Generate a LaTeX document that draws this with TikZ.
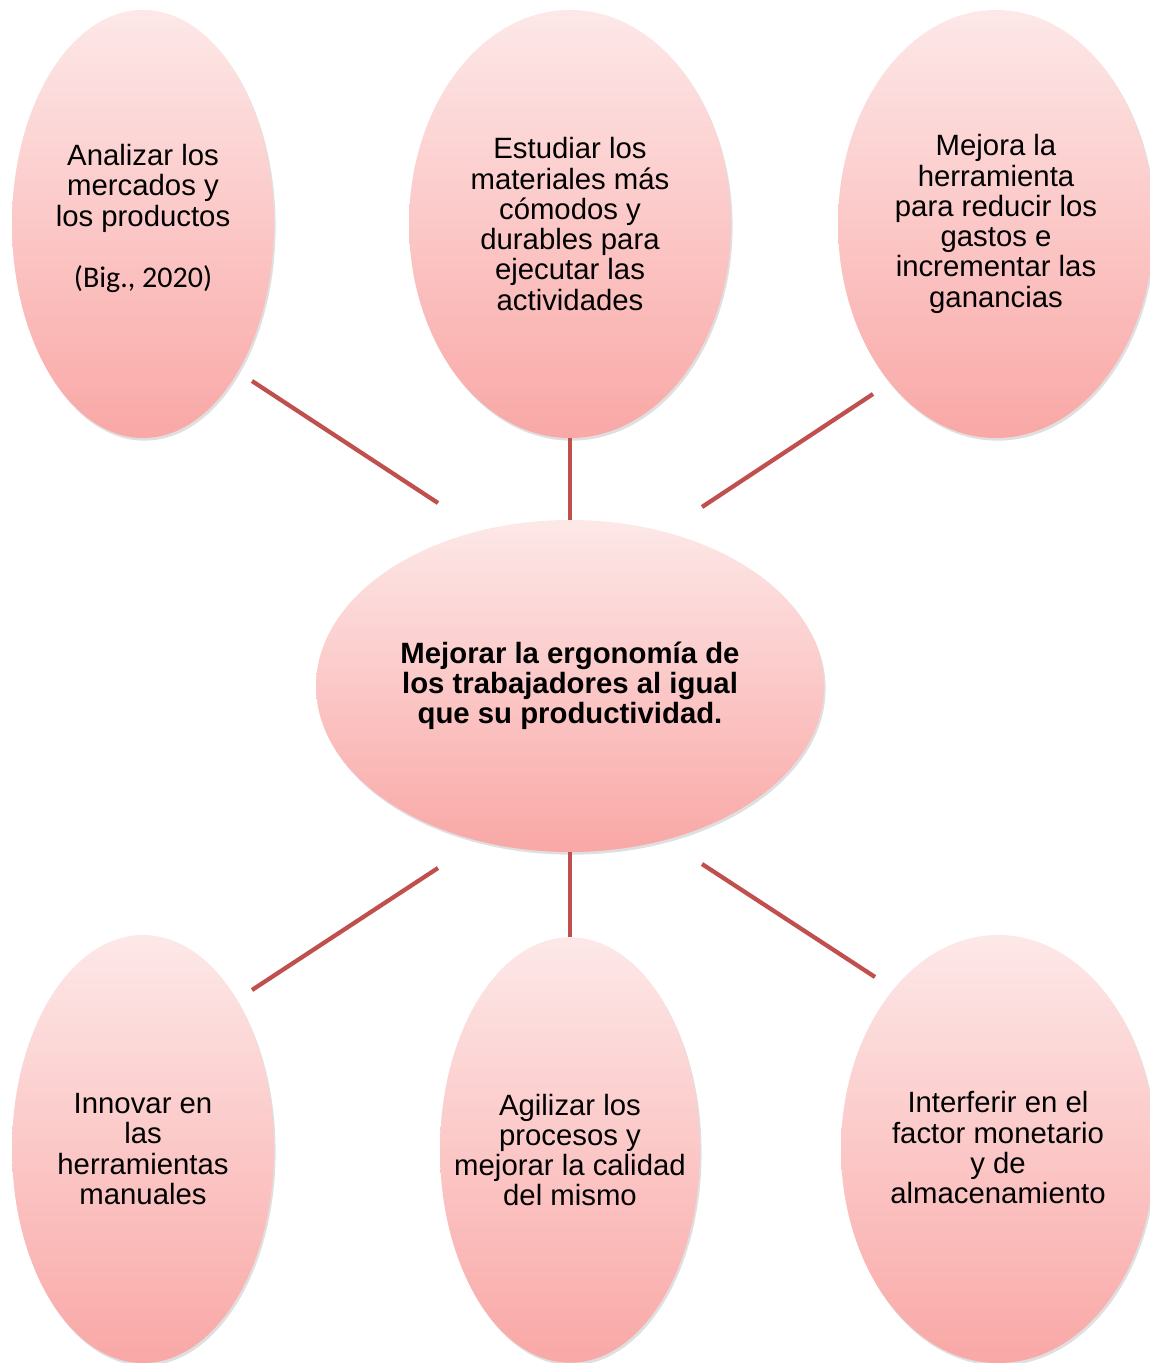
\documentclass[tikz,border=0pt]{standalone}
\usepackage{fontspec}
\setmainfont{Liberation Sans}
\newfontfamily\citefont{Carlito}
\usetikzlibrary{shapes.geometric, shadows, positioning}

\definecolor{pinktop}{RGB}{253,232,232}
\definecolor{pinkbot}{RGB}{249,168,166}
\definecolor{linkred}{RGB}{192,80,77}

\begin{document}
\begin{tikzpicture}[
  x=0.75pt, y=-0.75pt,
  bubble/.style={ellipse,inner sep=0pt,draw=none,top color=pinktop,bottom color=pinkbot,
    drop shadow={opacity=0.25,shadow xshift=1.2pt,shadow yshift=-2pt}},
  txt/.style={align=center,inner sep=0pt,font=\fontsize{22}{22.7}\selectfont},
  link/.style={draw=linkred,line width=3.2pt}
]
  \useasboundingbox (0,0) rectangle (1149,1363);
  % bubbles
  \node[bubble,minimum width=196.5pt,minimum height=321pt] (mercados) at (143,224) {};
  \node[bubble,minimum width=241.5pt,minimum height=321pt] (materiales) at (570,224) {};
  \node[bubble,minimum width=237pt,minimum height=321pt] (herramienta) at (996,224) {};
  \node[bubble,minimum width=381pt,minimum height=249pt] (ergonomia) at (570,686) {};
  \node[bubble,minimum width=196.5pt,minimum height=321pt] (innovar) at (143,1149) {};
  \node[bubble,minimum width=195pt,minimum height=319pt] (agilizar) at (570,1150) {};
  \node[bubble,minimum width=235.5pt,minimum height=321pt] (monetario) at (998,1149) {};
  % texts
  \node[txt] (tmercados) at ([yshift=4pt]mercados) {Analizar los\\mercados y\\los productos\\[23.5pt]{\citefont\fontsize{22.5}{22.7}\selectfont (Big., 2020)}};
  \node[txt] (tmateriales) at (materiales) {Estudiar los\\materiales más\\cómodos y\\durables para\\ejecutar las\\actividades};
  \node[txt] (therramienta) at (herramienta) {Mejora la\\herramienta\\para reducir los\\gastos e\\incrementar las\\ganancias};
  \node[txt,font=\fontsize{22}{22.7}\selectfont\bfseries] (tergonomia) at (ergonomia) {Mejorar la ergonomía de\\los trabajadores al igual\\que su productividad.};
  \node[txt] (tinnovar) at (innovar) {Innovar en\\las\\herramientas\\manuales};
  \node[txt] (tagilizar) at (agilizar) {Agilizar los\\procesos y\\mejorar la calidad\\del mismo};
  \node[txt] (tmonetario) at ([yshift=1pt]monetario) {Interferir en el\\factor monetario\\y de\\almacenamiento};
  % free line ends
  \coordinate (a1) at (252,381);  \coordinate (a2) at (438,503);
  \coordinate (b1) at (873,394);  \coordinate (b2) at (702,507);
  \coordinate (c1) at (438,868);  \coordinate (c2) at (252,990);
  \coordinate (d1) at (702,864);  \coordinate (d2) at (875,977);
  % links
  \draw[link] (a1) -- (a2);
  \draw[link] (materiales.south) -- (ergonomia.north);
  \draw[link] (b1) -- (b2);
  \draw[link] (c1) -- (c2);
  \draw[link] (ergonomia.south) -- (agilizar.north);
  \draw[link] (d1) -- (d2);
\end{tikzpicture}
\end{document}
